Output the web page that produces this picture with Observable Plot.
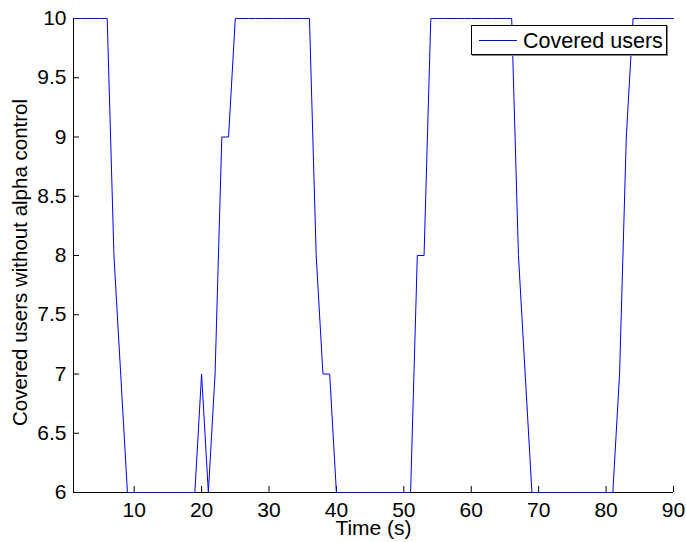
<!DOCTYPE html>
<html>
<head>
<meta charset="utf-8">
<script src="https://cdn.jsdelivr.net/npm/d3@7"></script>
<script src="https://cdn.jsdelivr.net/npm/@observablehq/plot@0.6"></script>
<style>
  html, body { margin: 0; padding: 0; background: #fff; }
  #wrap { position: relative; width: 686px; height: 542px; }
  #legend {
    position: absolute; left: 471px; top: 25px; width: 194px; height: 28px;
    border: 1px solid #000; background: #fff; box-shadow: 1px 1px 0 #888;
    font-family: "Liberation Sans", Arial, sans-serif; font-size: 21.5px; color: #000;
    box-sizing: content-box;
  }
  #legend .sw { position: absolute; left: 7px; top: 14px; width: 38px; height: 0; border-top: 1px solid #0000ff; }
  #legend .lb { position: absolute; left: 51px; top: 4px; line-height: 22px; white-space: nowrap; }
</style>
</head>
<body>
<div id="wrap"></div>
<script>
const time = [1,2,3,4,5,6,7,8,9,10,11,12,13,14,15,16,17,18,19,20,21,22,23,24,25,26,27,28,29,30,
  31,32,33,34,35,36,37,38,39,40,41,42,43,44,45,46,47,48,49,50,51,52,53,54,55,56,57,58,59,60,
  61,62,63,64,65,66,67,68,69,70,71,72,73,74,75,76,77,78,79,80,81,82,83,84,85,86,87,88,89,90];
const coveredUsers = [10,10,10,10,10,10,8,7,6,6,6,6,6,6,6,6,6,6,6,7,6,7,9,9,10,10,10,10,10,10,
  10,10,10,10,10,10,8,7,7,6,6,6,6,6,6,6,6,6,6,6,6,8,8,10,10,10,10,10,10,10,
  10,10,10,10,10,10,8,7,6,6,6,6,6,6,6,6,6,6,6,6,6,7,9,10,10,10,10,10,10,10];
const xTicks = [10,20,30,40,50,60,70,80,90];
const yTicks = [6,6.5,7,7.5,8,8.5,9,9.5,10];
const seriesName = "Covered users";
const xLabel = "Time (s)";
const yLabel = "Covered users without alpha control";

const data = time.map((t, i) => ({t, v: coveredUsers[i]}));
const fmt = d => String(d);
const font = "'Liberation Sans', Arial, sans-serif";

const chart = Plot.plot({
  width: 686,
  height: 542,
  marginLeft: 73,
  marginRight: 13,
  marginTop: 18,
  marginBottom: 50,
  style: {fontFamily: font, fontSize: "21px", color: "#000", background: "#fff"},
  x: {domain: [1, 90]},
  y: {domain: [6, 10]},
  marks: [
    Plot.axisX(xTicks, {tickSize: -6, tickFormat: () => "", label: null, stroke: "#000"}),
    Plot.axisX(xTicks, {tickSize: 0, tickPadding: 10, tickFormat: fmt, label: null, fontSize: 21}),
    Plot.axisY(yTicks, {tickSize: -6, tickFormat: () => "", label: null, stroke: "#000"}),
    Plot.axisY(yTicks, {tickSize: 0, tickPadding: 7, tickFormat: fmt, label: null, fontSize: 21}),
    Plot.ruleY([6], {stroke: "#000"}),
    Plot.ruleX([1], {stroke: "#000"}),
    Plot.line(data, {x: "t", y: "v", stroke: "#0000ff", strokeWidth: 1}),
    Plot.text([xLabel], {frameAnchor: "bottom", dy: 42, fontSize: 21, fill: "#000"}),
    Plot.text([yLabel], {frameAnchor: "left", dx: -53, dy: 7, rotate: -90, textAnchor: "middle", fontSize: 20.5, fill: "#000"})
  ]
});
const wrap = document.getElementById("wrap");
wrap.appendChild(chart);
const lg = document.createElement("div");
lg.id = "legend";
lg.innerHTML = `<div class="sw"></div><div class="lb"></div>`;
lg.querySelector(".lb").textContent = seriesName;
wrap.appendChild(lg);
</script>
</body>
</html>
